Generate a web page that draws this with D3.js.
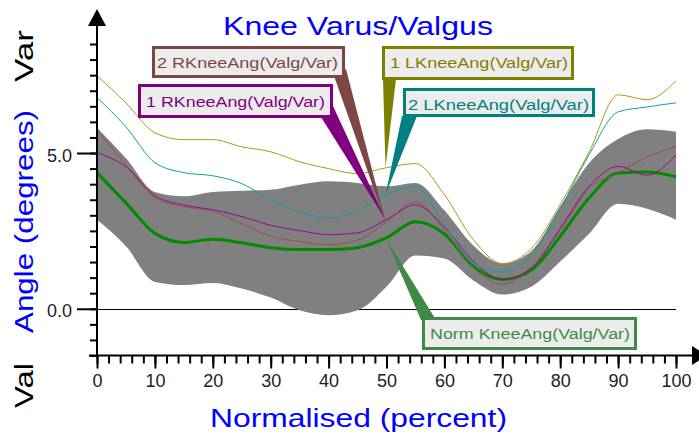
<!DOCTYPE html>
<html>
<head>
<meta charset="utf-8">
<script src="https://cdn.jsdelivr.net/npm/d3@7"></script>
<style>
  body { margin: 0; background: #fff; }
  svg { display: block; font-family: "Liberation Sans", Arial, sans-serif; }
</style>
</head>
<body>
<svg id="chart" width="699" height="437"></svg>
<script>
// percent of cycle
var pct = [0, 5, 10, 15, 20, 25, 30, 35, 40, 45, 50, 55, 60, 65, 70, 75, 80, 85, 90, 95, 100];

// knee varus/valgus angle (degrees)
var lKnee1 = [7.48, 6.61, 5.65, 5.43, 5.43, 5.20, 5.04, 4.72, 4.50, 4.34, 4.53, 4.66, 3.66, 2.22, 1.45, 1.93, 3.34, 5.04, 6.87, 6.71, 7.32];
var lKnee2 = [6.78, 5.84, 4.69, 4.37, 4.27, 4.02, 3.50, 3.12, 2.93, 3.15, 3.66, 3.92, 2.70, 1.45, 1.19, 1.71, 3.21, 4.95, 6.32, 6.48, 6.61];
var rKnee1 = [5.01, 4.56, 3.63, 3.33, 3.18, 2.96, 2.68, 2.51, 2.38, 2.44, 2.86, 3.34, 2.62, 1.52, 0.94, 1.29, 2.58, 3.93, 4.57, 4.29, 4.94];
var rKnee2 = [5.74, 4.62, 3.57, 3.28, 3.13, 2.73, 2.33, 2.16, 2.06, 2.20, 2.79, 3.43, 2.52, 1.32, 0.79, 1.35, 2.51, 3.86, 4.36, 4.87, 5.21];
var normMean = [4.37, 3.40, 2.42, 2.13, 2.23, 2.12, 1.96, 1.90, 1.90, 1.96, 2.28, 2.79, 2.40, 1.36, 0.94, 1.24, 2.33, 3.56, 4.36, 4.39, 4.24];
var normUpper = [5.81, 4.83, 3.75, 3.61, 3.75, 3.79, 3.82, 3.98, 4.09, 4.04, 3.93, 4.04, 3.16, 2.03, 1.45, 1.85, 3.28, 4.68, 5.45, 5.76, 5.68];
var normLower = [2.86, 2.01, 0.86, 0.76, 0.83, 0.65, 0.36, -0.05, -0.21, -0.05, 0.71, 1.71, 1.61, 0.91, 0.46, 0.71, 1.52, 2.41, 3.37, 3.21, 2.86];

var xMajor = [0, 10, 20, 30, 40, 50, 60, 70, 80, 90, 100];
var yMajor = [0, 5];
var yMajorLabels = ["0.0", "5.0"];

var svg = d3.select("#chart");

var x = d3.scaleLinear().domain([0, 100]).range([97, 676]);
var y = d3.scaleLinear().domain([-1.5, 8.5]).range([355.5, 44]);

// zero line (sits under the band)
svg.append("line")
  .attr("x1", x(0)).attr("x2", x(100))
  .attr("y1", Math.round(y(0)) + 0.5).attr("y2", Math.round(y(0)) + 0.5)
  .attr("stroke", "#000").attr("stroke-width", 1);

// normal band
var area = d3.area()
  .x(function(d, i) { return x(pct[i]); })
  .y0(function(d, i) { return y(normLower[i]); })
  .y1(function(d, i) { return y(normUpper[i]); })
  .curve(d3.curveMonotoneX);

svg.append("path")
  .datum(pct)
  .attr("d", area)
  .attr("fill", "#808080");

var line = d3.line()
  .x(function(d, i) { return x(pct[i]); })
  .y(function(d) { return y(d); })
  .curve(d3.curveMonotoneX);

var series = [
  { values: normMean, color: "#008c00", width: 3 },
  { values: rKnee2, color: "#a04c4c", width: 1 },
  { values: rKnee1, color: "#a000a0", width: 1 },
  { values: lKnee2, color: "#10a0a0", width: 1 },
  { values: lKnee1, color: "#a0a010", width: 1 }
];

svg.selectAll(".series")
  .data(series)
  .enter()
  .append("path")
  .attr("class", "series")
  .attr("d", function(d) { return line(d.values); })
  .attr("fill", "none")
  .attr("stroke", function(d) { return d.color; })
  .attr("stroke-width", function(d) { return d.width; });

// axes
var yMinor = d3.range(-1.5, 8.51, 0.5);
svg.append("g")
  .attr("transform", "translate(97,0)")
  .call(d3.axisLeft(y).tickValues(yMinor).tickSize(7).tickFormat(""))
  .call(function(g) { g.select(".domain").remove(); });

svg.append("g")
  .attr("transform", "translate(97,0)")
  .call(d3.axisLeft(y).tickValues(yMajor).tickSize(20).tickPadding(5)
    .tickFormat(function(d, i) { return yMajorLabels[i]; }))
  .call(function(g) {
    g.select(".domain").remove();
    g.selectAll("text").attr("font-size", 18).attr("font-family", "Liberation Sans, Arial")
      .attr("fill", "#222").attr("dy", "0.45em");
  });

var xMinor = d3.range(0, 101, 2);
svg.append("g")
  .attr("transform", "translate(0,355.5)")
  .call(d3.axisBottom(x).tickValues(xMinor).tickSize(8).tickFormat(""))
  .call(function(g) { g.select(".domain").remove(); });

svg.append("g")
  .attr("transform", "translate(0,355.5)")
  .call(d3.axisBottom(x).tickValues(xMajor).tickSize(13).tickPadding(6))
  .call(function(g) {
    g.select(".domain").remove();
    g.selectAll("text").attr("font-size", 18).attr("font-family", "Liberation Sans, Arial")
      .attr("fill", "#222");
  });

svg.selectAll(".tick line").attr("stroke", "#000").attr("stroke-width", 2);

// axis lines with arrows
svg.append("line").attr("x1", 97).attr("x2", 97).attr("y1", 356).attr("y2", 22)
  .attr("stroke", "#000").attr("stroke-width", 2);
svg.append("path").attr("d", "M97,9 L88,26 L106,26 Z").attr("fill", "#000");
svg.append("line").attr("x1", 89).attr("x2", 694).attr("y1", 355.5).attr("y2", 355.5)
  .attr("stroke", "#000").attr("stroke-width", 2);
svg.append("path").attr("d", "M692,346 L707,355.5 L692,365 Z").attr("fill", "#000");

// callouts
var callouts = [
  { text: "Norm KneeAng(Valg/Var)", values: normMean, color: "#3f8a46",
    box: [422, 317, 637, 350], tx: 430, ty: 339, tw: 200, base: [[421, 320], [436, 320]] },
  { text: "2 RKneeAng(Valg/Var)", values: rKnee2, color: "#7f4646",
    box: [152, 46, 345, 78], tx: 157, ty: 68, tw: 181, base: [[334, 76], [346, 69]] },
  { text: "1 RKneeAng(Valg/Var)", values: rKnee1, color: "#800080",
    box: [138, 84, 333, 118], tx: 146, ty: 107, tw: 179, base: [[321, 117], [333, 106]] },
  { text: "1 LKneeAng(Valg/Var)", values: lKnee1, color: "#808000",
    box: [382, 46, 574, 80], tx: 390, ty: 68, tw: 178, base: [[383, 79], [396, 79]] },
  { text: "2 LKneeAng(Valg/Var)", values: lKnee2, color: "#008080",
    box: [403, 88, 595, 117], tx: 408, ty: 110, tw: 181, base: [[402, 116], [417, 116]] }
];

var tipIndex = pct.indexOf(50);

svg.selectAll(".wedge")
  .data(callouts)
  .enter()
  .append("path")
  .attr("class", "wedge")
  .attr("d", function(d) {
    var tip = [x(pct[tipIndex]) - 1, y(d.values[tipIndex])];
    return "M" + d.base[0] + "L" + tip + "L" + d.base[1] + "Z";
  })
  .attr("fill", function(d) { return d.color; });

var boxes = svg.selectAll(".callout")
  .data(callouts)
  .enter()
  .append("g")
  .attr("class", "callout");

boxes.append("rect")
  .attr("x", function(d) { return d.box[0] + 1.5; })
  .attr("y", function(d) { return d.box[1] + 1.5; })
  .attr("width", function(d) { return d.box[2] - d.box[0] - 3; })
  .attr("height", function(d) { return d.box[3] - d.box[1] - 3; })
  .attr("fill", "#ececec")
  .attr("stroke", function(d) { return d.color; })
  .attr("stroke-width", 3);

boxes.append("text")
  .attr("x", function(d) { return d.tx; })
  .attr("y", function(d) { return d.ty; })
  .attr("font-size", 14)
  .attr("textLength", function(d) { return d.tw; })
  .attr("lengthAdjust", "spacingAndGlyphs")
  .attr("fill", function(d) { return d.color; })
  .text(function(d) { return d.text; });

// titles
svg.append("text")
  .attr("x", 223).attr("y", 35)
  .attr("font-size", 25).attr("fill", "#0000ff")
  .attr("textLength", 270).attr("lengthAdjust", "spacingAndGlyphs")
  .text("Knee Varus/Valgus");

svg.append("text")
  .attr("x", 210).attr("y", 427)
  .attr("font-size", 25).attr("fill", "#0000ff")
  .attr("textLength", 297).attr("lengthAdjust", "spacingAndGlyphs")
  .text("Normalised (percent)");

svg.append("text")
  .attr("transform", "translate(33,333) rotate(-90)")
  .attr("font-size", 25).attr("fill", "#0000ff")
  .attr("textLength", 223).attr("lengthAdjust", "spacingAndGlyphs")
  .text("Angle (degrees)");

svg.append("text")
  .attr("transform", "translate(33,82) rotate(-90)")
  .attr("font-size", 25).attr("fill", "#000")
  .attr("textLength", 52).attr("lengthAdjust", "spacingAndGlyphs")
  .text("Var");

svg.append("text")
  .attr("transform", "translate(33,408) rotate(-90)")
  .attr("font-size", 25).attr("fill", "#000")
  .attr("textLength", 45).attr("lengthAdjust", "spacingAndGlyphs")
  .text("Val");
</script>
</body>
</html>
